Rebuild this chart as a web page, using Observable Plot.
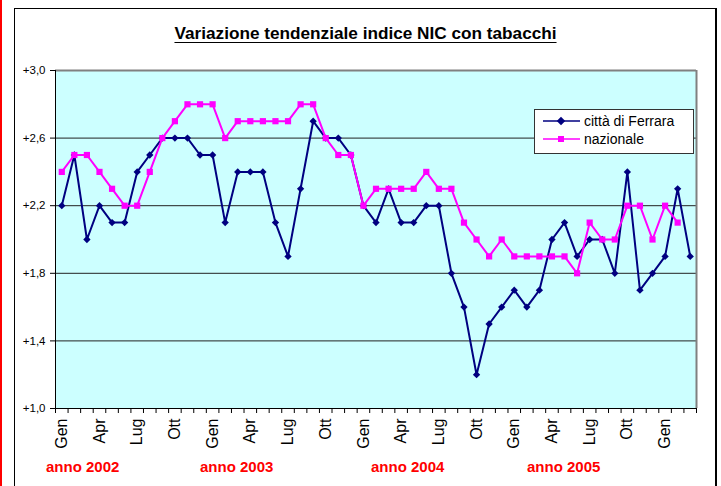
<!DOCTYPE html>
<html>
<head>
<meta charset="utf-8">
<script src="https://cdn.jsdelivr.net/npm/d3@7"></script>
<script src="https://cdn.jsdelivr.net/npm/@observablehq/plot@0.6"></script>
<style>
  html, body { margin: 0; padding: 0; background: #fff; }
  body { width: 721px; height: 486px; overflow: hidden; position: relative; font-family: "Liberation Sans", Arial, sans-serif; }
  #redline { position: absolute; left: 0; top: 0; width: 2px; height: 486px; background: #ff0000; }
  #frame { position: absolute; left: 14px; top: 8px; width: 703px; height: 490px; border: 1px solid #000; border-right-width: 2px; box-sizing: border-box; }
  #title { position: absolute; left: 14px; top: 23px; width: 703px; text-align: center; font-weight: bold; font-size: 17.2px; text-decoration: underline; text-underline-offset: 3px; color: #000; }
  #chart { position: absolute; left: 0; top: 56px; }
  #legend { position: absolute; left: 534px; top: 109px; width: 160px; height: 45px; box-sizing: border-box; border: 1px solid #333; background: #fff; font-size: 14px; }
  .entry { position: absolute; left: 8px; display: flex; align-items: center; height: 18px; }
  .entry svg { margin-right: 4px; }
  #years span { position: absolute; top: 458px; color: #ff0000; font-weight: bold; font-size: 15px; }
</style>
</head>
<body>
<div id="redline"></div>
<div id="frame"></div>
<div id="title">Variazione tendenziale indice NIC con tabacchi</div>
<div id="chart"></div>
<div id="legend"></div>
<div id="years"></div>
<script>
const monthNames = ["Gen","Feb","Mar","Apr","Mag","Giu","Lug","Ago","Set","Ott","Nov","Dic"];
const seriesNames = ["città di Ferrara", "nazionale"];
const ferrara = [
  2.2,2.5,2.0,2.2,2.1,2.1,2.4,2.5,2.6,2.6,2.6,2.5,
  2.5,2.1,2.4,2.4,2.4,2.1,1.9,2.3,2.7,2.6,2.6,2.5,
  2.2,2.1,2.3,2.1,2.1,2.2,2.2,1.8,1.6,1.2,1.5,1.6,
  1.7,1.6,1.7,2.0,2.1,1.9,2.0,2.0,1.8,2.4,1.7,1.8,
  1.9,2.3,1.9
];
const nazionale = [
  2.4,2.5,2.5,2.4,2.3,2.2,2.2,2.4,2.6,2.7,2.8,2.8,
  2.8,2.6,2.7,2.7,2.7,2.7,2.7,2.8,2.8,2.6,2.5,2.5,
  2.2,2.3,2.3,2.3,2.3,2.4,2.3,2.3,2.1,2.0,1.9,2.0,
  1.9,1.9,1.9,1.9,1.9,1.8,2.1,2.0,2.0,2.2,2.2,2.0,
  2.2,2.1,null
];
const yTicks = [1.0, 1.4, 1.8, 2.2, 2.6, 3.0];
const yearLabels = ["anno 2002", "anno 2003", "anno 2004", "anno 2005"];
const colors = ["#000080", "#ff00ff"];

const rows = ferrara.map((v, i) => ({i, month: monthNames[i % 12], ferrara: v, nazionale: nazionale[i]}));
const labelIdx = rows.filter(d => d.i % 3 === 0).map(d => d.i);
const boundaries = d3.range(0, rows.length + 1).map(k => k - 0.5);
const fmt = v => "+" + v.toFixed(1).replace(".", ",");

const chart = Plot.plot({
  width: 721,
  height: 400,
  marginLeft: 55,
  marginRight: 25,
  marginTop: 14,
  marginBottom: 48,
  style: {fontFamily: "'Liberation Sans', Arial, sans-serif", background: "transparent", color: "#000"},
  x: {domain: [-0.5, rows.length - 0.5]},
  y: {domain: [1, 3]},
  marks: [
    Plot.frame({fill: "#ccffff", stroke: null}),
    Plot.ruleY(yTicks.filter(v => v > 1 && v < 3), {stroke: "#222", strokeWidth: 1}),
    Plot.ruleY([3], {stroke: "#808080", strokeWidth: 2}),
    Plot.ruleX([rows.length - 0.5], {stroke: "#808080", strokeWidth: 2}),
    Plot.ruleY([1], {stroke: "#000", strokeWidth: 1}),
    Plot.ruleX([-0.5], {stroke: "#000", strokeWidth: 1}),
    Plot.axisY({ticks: yTicks, tickSize: 5, tickPadding: 5, tickFormat: fmt, fontSize: 11.5, label: null}),
    Plot.axisX({ticks: boundaries, tickSize: 5, tickFormat: () => "", label: null}),
    Plot.axisX({ticks: labelIdx, tickSize: 0, tickPadding: 10, tickRotate: -90, tickFormat: i => monthNames[i % 12], fontSize: 16, label: null}),
    Plot.line(rows, {x: "i", y: "ferrara", stroke: colors[0], strokeWidth: 2}),
    Plot.dot(rows, {x: "i", y: "ferrara", symbol: "diamond2", r: 3.3, fill: colors[0], stroke: null}),
    Plot.line(rows.filter(d => d.nazionale != null), {x: "i", y: "nazionale", stroke: colors[1], strokeWidth: 2}),
    Plot.dot(rows.filter(d => d.nazionale != null), {x: "i", y: "nazionale", symbol: "square", r: 3.5, fill: colors[1], stroke: null})
  ]
});
document.getElementById("chart").appendChild(chart);

// legend
const legend = document.getElementById("legend");
const symbols = ["diamond", "square"];
seriesNames.forEach((name, k) => {
  const e = document.createElement("div");
  e.className = "entry";
  e.style.top = (k === 0 ? 2 : 20) + "px";
  const mark = symbols[k] === "diamond"
    ? '<rect x="15" y="5" width="6" height="6" transform="rotate(45 18 8)" fill="' + colors[k] + '"/>'
    : '<rect x="15" y="5" width="6" height="6" fill="' + colors[k] + '"/>';
  e.innerHTML = '<svg width="37" height="16" viewBox="0 0 37 16"><line x1="0" y1="8" x2="37" y2="8" stroke="' + colors[k] + '" stroke-width="1.5"/>' + mark + '</svg><span>' + name + '</span>';
  legend.appendChild(e);
});

// year labels
const yearLeft = [46, 200, 371, 527];
const years = document.getElementById("years");
yearLabels.forEach((t, k) => {
  const s = document.createElement("span");
  s.textContent = t;
  s.style.left = yearLeft[k] + "px";
  years.appendChild(s);
});
</script>
</body>
</html>
